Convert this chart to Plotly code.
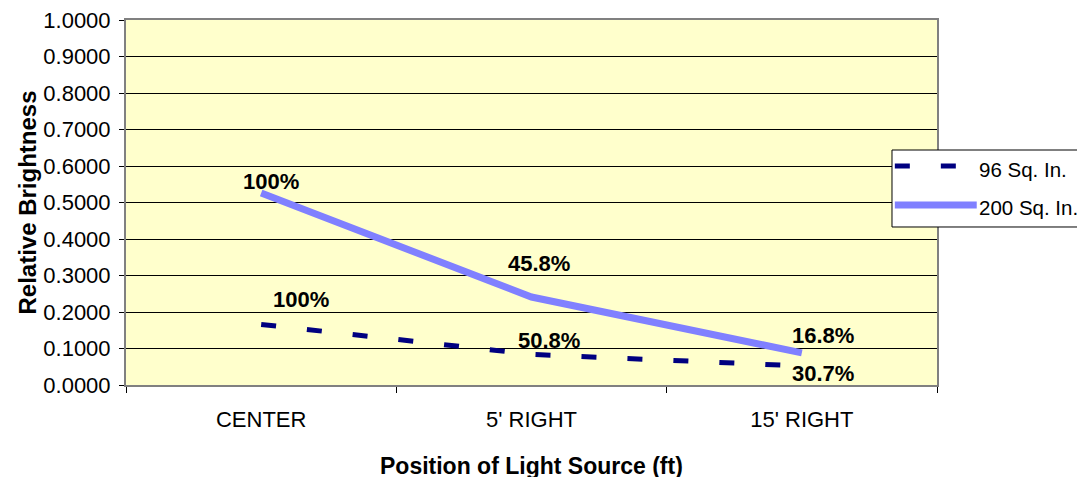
import plotly.graph_objects as go

categories = ["CENTER", "5' RIGHT", "15' RIGHT"]
series_96 = [0.166, 0.084, 0.052]
series_200 = [0.526, 0.241, 0.088]
labels_96 = ["100%", "50.8%", "30.7%"]
labels_200 = ["100%", "45.8%", "16.8%"]
name_96 = "96 Sq. In."
name_200 = "200 Sq. In."
x_title = "Position of Light Source (ft)"
y_title = "Relative Brightness"
y_ticks = [i / 10 for i in range(11)]

FONT = "Liberation Sans, Arial, sans-serif"
C96 = "#000080"
C200 = "#8080FF"
DASH96 = "15px,31px"

fig = go.Figure()
fig.add_trace(go.Scatter(
    x=categories, y=series_96, name=name_96, mode="lines",
    line=dict(color=C96, width=5, dash=DASH96), showlegend=False,
))
fig.add_trace(go.Scatter(
    x=categories, y=series_200, name=name_200, mode="lines",
    line=dict(color=C200, width=7), showlegend=False,
))

# data labels (offsets in px from each point)
shifts_96 = [(40, 25), (17, 14), (21, -7)]
shifts_200 = [(10, 12), (7, 34), (21, 17)]
for vals, labs, shifts in ((series_96, labels_96, shifts_96), (series_200, labels_200, shifts_200)):
    for cat, val, lab, (dx, dy) in zip(categories, vals, labs, shifts):
        fig.add_annotation(x=cat, y=val, text=f"<b>{lab}</b>", showarrow=False,
                           xshift=dx, yshift=dy, xanchor="center", yanchor="middle",
                           font=dict(family=FONT, size=22, color="black"))

# legend drawn manually (long line samples like the original)
fig.add_shape(type="rect", xref="paper", yref="paper", x0=0.9445, x1=1.1788, y0=0.4329, y1=0.6438,
              fillcolor="white", line=dict(color="black", width=1), layer="above")
fig.add_shape(type="line", xref="paper", yref="paper", x0=0.948, x1=1.025, y0=0.600, y1=0.600,
              line=dict(color=C96, width=5, dash=DASH96), layer="above")
fig.add_shape(type="line", xref="paper", yref="paper", x0=0.948, x1=1.049, y0=0.493, y1=0.493,
              line=dict(color=C200, width=7), layer="above")
fig.add_annotation(xref="paper", yref="paper", x=1.049, y=0.590, text=name_96, showarrow=False,
                   xanchor="left", yanchor="middle", font=dict(family=FONT, size=20.5, color="black"))
fig.add_annotation(xref="paper", yref="paper", x=1.049, y=0.485, text=name_200, showarrow=False,
                   xanchor="left", yanchor="middle", font=dict(family=FONT, size=20.5, color="black"))

# x-axis title
fig.add_annotation(xref="paper", yref="paper", x=0.5, y=-0.222, text=f"<b>{x_title}</b>",
                   showarrow=False, xanchor="center", yanchor="middle",
                   font=dict(family=FONT, size=23, color="black"))

# page body has an 8px margin; shift the figure so the plot area sits at 126..937 x 20..385
fig.update_layout(
    width=1085, height=477,
    margin=dict(l=118, r=156, t=12, b=100, autoexpand=False),
    paper_bgcolor="white",
    plot_bgcolor="#FFFFCC",
    font=dict(family=FONT, size=22, color="black"),
    showlegend=False,
    xaxis=dict(
        range=[-0.5, 2.5], automargin=False,
        tickson="boundaries", ticks="outside", ticklen=6, tickcolor="black",
        showgrid=False, showline=True, linecolor="#808080", linewidth=2, mirror=True,
        tickfont=dict(size=22), ticklabeloverflow="allow",
        ticklabelstandoff=14,
    ),
    yaxis=dict(
        title=dict(text=f"<b>{y_title}</b>", font=dict(size=24), standoff=0),
        range=[0, 1.0], tickvals=y_ticks, tickformat=".4f", automargin=False,
        ticks="outside", ticklen=5, tickcolor="black",
        showgrid=True, gridcolor="black", gridwidth=1,
        showline=True, linecolor="#808080", linewidth=2, mirror=True,
        zeroline=False, tickfont=dict(size=22), ticklabeloverflow="allow",
        ticklabelstandoff=4,
    ),
)

fig.write_html("out.html")
